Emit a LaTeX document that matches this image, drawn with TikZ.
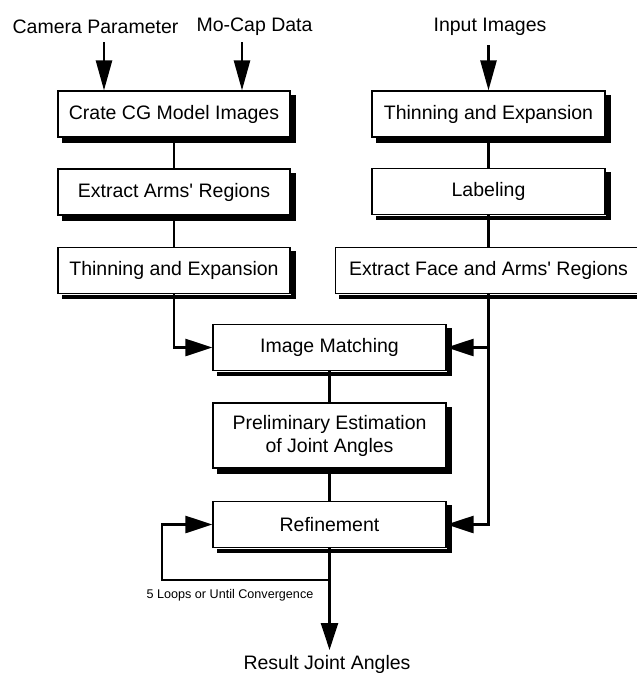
\documentclass[tikz,border=0pt]{standalone}
\usepackage{fontspec}
\setmainfont{Liberation Sans}[Ligatures=TeXOff]
\usetikzlibrary{arrows.meta}
\begin{document}
\begin{tikzpicture}[x=1pt,y=1pt,
  box/.style={draw=black, line width=1.2pt, fill=white, minimum height=46pt,
    inner sep=0pt, align=center, font=\fontsize{19.5}{23}\selectfont},
  lbl/.style={inner sep=0pt, font=\fontsize{19.5}{23}\selectfont},
  conn/.style={line width=2.5pt},
  arr/.style={line width=2.5pt, -{Triangle[length=27pt,width=17pt]}},
  arrlong/.style={line width=2.5pt, -{Triangle[length=30pt,width=16pt]}}
]
\fill[white] (0,0) rectangle (637,-673);
\useasboundingbox (0,0) rectangle (637,-673);

% left column
\node[box, minimum width=232pt] (cg) at (174,-114) {Crate CG Model Images};
\node[box, minimum width=232pt] (ear) at (174,-192) {Extract Arms' Regions};
\node[box, minimum width=232pt] (tel) at (174,-270.5) {Thinning and Expansion};
% right column
\node[box, minimum width=233pt] (ter) at (488.5,-114) {Thinning and Expansion};
\node[box, minimum width=233pt] (lab) at (488.5,-191.5) {Labeling};
\node[box, minimum width=306pt] (efa) at (488.5,-270.5) {Extract Face and Arms' Regions};
% centre column
\node[box, minimum width=233pt] (im) at (329.5,-347.5) {Image Matching};
\node[box, minimum width=233pt, minimum height=65pt] (pe) at (329.5,-435.5) {Preliminary Estimation\\of Joint Angles};
\node[box, minimum width=233pt] (ref) at (329.5,-524.5) {Refinement};

% shadows as thick L-shaped strokes along the lower and right sides
\foreach \n in {cg,ear,tel,ter,lab,efa,im,pe,ref}{
  \fill[black] ([xshift=0.6pt,yshift=-0.6pt]\n.south west -| \n.east) ++(0,0)
     rectangle ([xshift=5pt,yshift=-4.5pt]\n.north east);
  \fill[black] ([xshift=4.5pt,yshift=-0.6pt]\n.south west)
     rectangle ([xshift=5pt,yshift=-5pt]\n.south east);
}

% top labels
\node[lbl] (cam) at (95.5,-27) {Camera Parameter};
\node[lbl] (moc) at (254.5,-27) {Mo-Cap Data};
\node[lbl] (inp) at (490,-27) {Input Images};
\node[lbl, anchor=base] (res) at (327,-669) {Result Joint Angles};
\node[inner sep=0pt, font=\fontsize{12.6}{15}\selectfont] (loop) at (230,-595) {5 Loops or Until Convergence};

\coordinate (camc) at (104,-42);
\coordinate (mocc) at (242,-42);
\coordinate (inpc) at (488.5,-45);
\coordinate (loopdown) at (329.5,-580);
\coordinate (loopleft) at (162,-580);
\coordinate (resc) at (329.5,-650);

% connectors
\draw[arrlong] (camc) -- (camc |- cg.north);
\draw[arrlong] (mocc) -- (mocc |- cg.north);
\draw[arrlong] (inpc) -- (ter.north);
\draw[conn] (cg) -- (ear);
\draw[conn] (ear) -- (tel);
\draw[conn] (ter) -- (lab);
\draw[conn] (lab) -- (efa);
\draw[arr] (tel.south) |- (im.west);
\draw[conn] (im) -- (pe);
\draw[conn] (pe) -- (ref);
\draw[arr] (efa.south) |- (ref.east);
\draw[arr] (efa.south |- im.east) -- (im.east);
\draw[arr] (ref.south) -- (loopdown) -- (loopleft) |- (ref.west);
\draw[arr] (loopdown) -- (resc);
\end{tikzpicture}
\end{document}
